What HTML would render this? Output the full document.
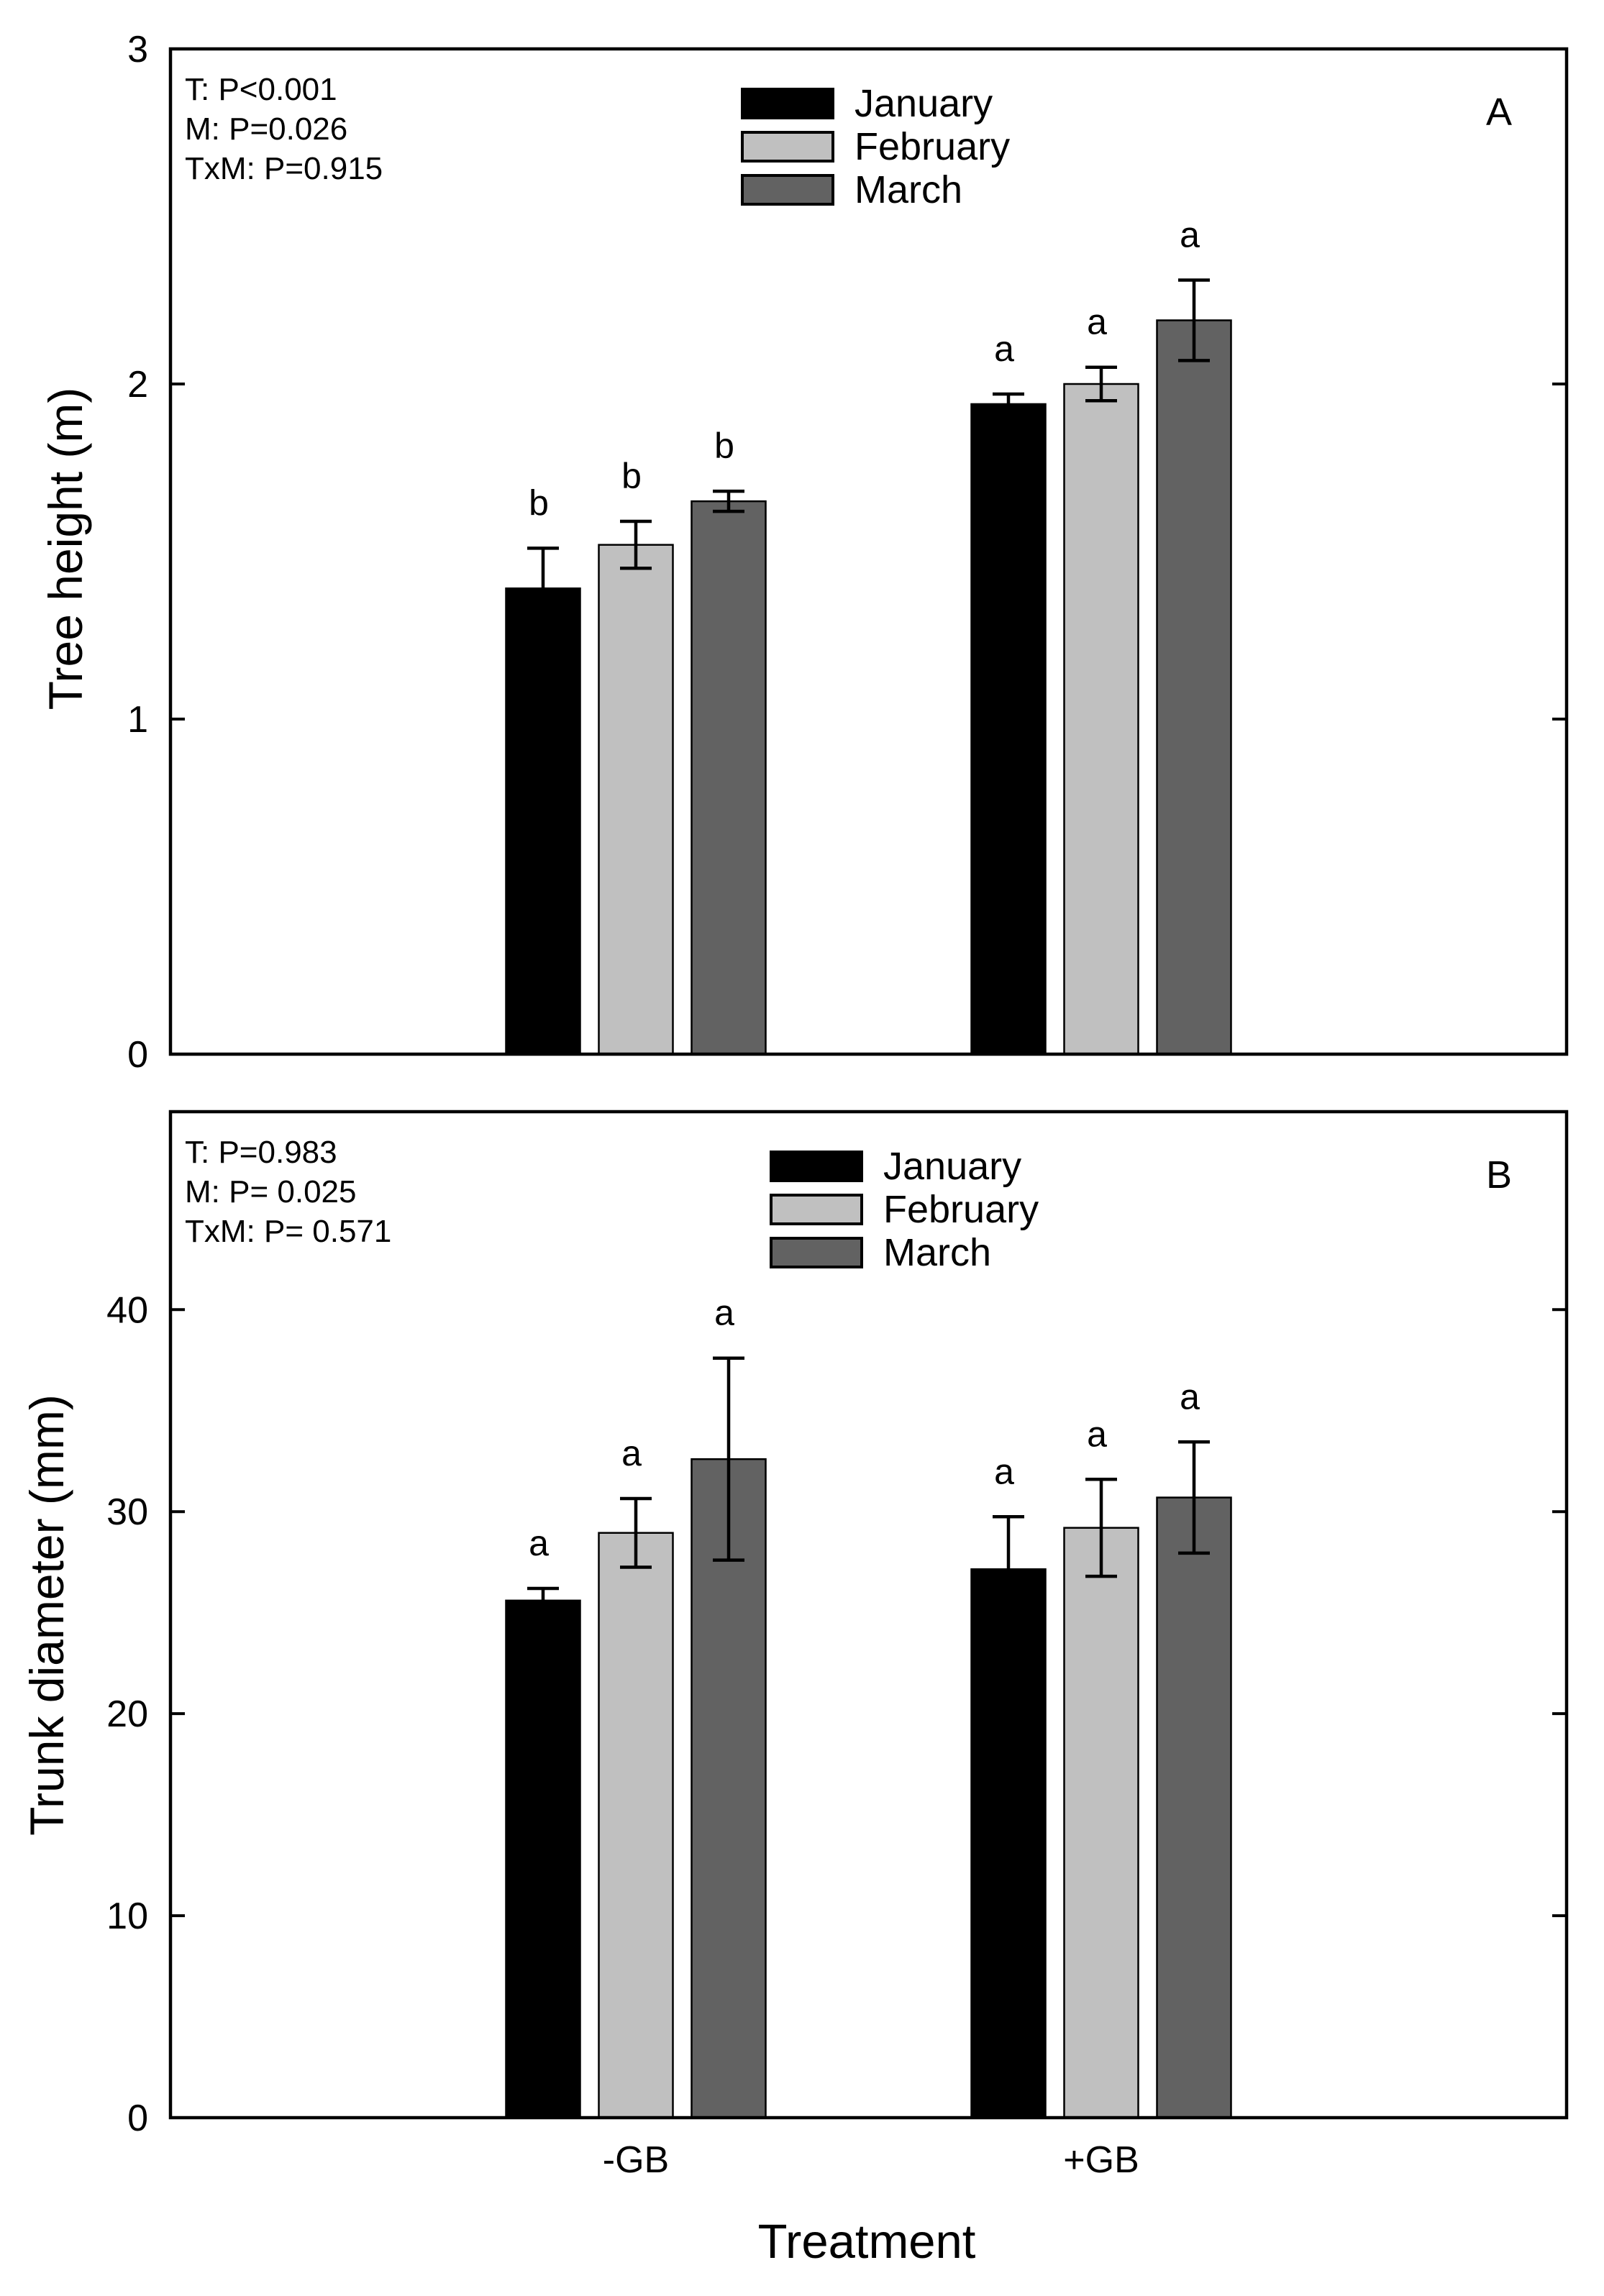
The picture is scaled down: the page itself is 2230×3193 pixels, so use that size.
<!DOCTYPE html>
<html><head><meta charset="utf-8"><style>
html,body{margin:0;padding:0;background:#fff;}
svg{display:block;font-family:"Liberation Sans",Arial,sans-serif;}
</style></head><body>
<svg id="chart" width="2230" height="3193" viewBox="0 0 2230 3193" xmlns="http://www.w3.org/2000/svg"></svg>
<script>
const categories = ["-GB", "+GB"];
const months = ["January", "February", "March"];
const colors = ["#000000", "#c0c0c0", "#626262"];
// Panel A: tree height (m)
const heightJan = [1.39, 1.94];
const heightFeb = [1.52, 2.00];
const heightMar = [1.65, 2.19];
const heightErrJan = [0.12, 0.03];
const heightErrFeb = [0.07, 0.05];
const heightErrMar = [0.03, 0.12];
const heightLetters = [["b","b","b"],["a","a","a"]];
const heightTicks = [0, 1, 2, 3];
// Panel B: trunk diameter (mm)
const diamJan = [25.6, 27.15];
const diamFeb = [28.95, 29.2];
const diamMar = [32.6, 30.7];
const diamErrJan = [0.6, 2.6];
const diamErrFeb = [1.7, 2.4];
const diamErrMar = [5.0, 2.75];
const diamLetters = [["a","a","a"],["a","a","a"]];
const diamTicks = [0, 10, 20, 30, 40];

const NS = "http://www.w3.org/2000/svg";
const svg = document.getElementById("chart");
function mk(tag, attrs, parent, text) {
  const e = document.createElementNS(NS, tag);
  for (const k in attrs) e.setAttribute(k, attrs[k]);
  if (text !== undefined) e.textContent = text;
  (parent || svg).appendChild(e);
  return e;
}
const L = 237, R = 2178;
function xCenter(i) { return L + (R - L) * (i + 1) / 3; }
const barW = 103, step = 129;

function panel(cfg) {
  const g = mk("g", {});
  
  
  const y = v => cfg.bottom - (v - 0) * (cfg.bottom - cfg.top) / cfg.max;
  const series = [cfg.jan, cfg.feb, cfg.mar];
  const errs = [cfg.ejan, cfg.efeb, cfg.emar];
  categories.forEach((c, ci) => {
    for (let s = 0; s < 3; s++) {
      const cx = xCenter(ci) + (s - 1) * step;
      const v = series[s][ci], e = errs[s][ci];
      const r = mk("rect", {x: cx - barW/2, y: y(v), width: barW, height: cfg.bottom - y(v), fill: colors[s], stroke: "#000", "stroke-width": 2.5}, g);
      
      
      const eb = mk("path", {d: `M${cx} ${y(v+e)}V${y(v-e)}M${cx-22} ${y(v+e)}H${cx+22}M${cx-22} ${y(v-e)}H${cx+22}`, stroke: "#000", "stroke-width": 4.5, fill: "none"}, g);
      
      
      const t = mk("text", {x: cx - 6, y: y(v+e) - 46, "font-size": 50, "text-anchor": "middle"}, g, cfg.letters[ci][s]);
      
      
    }
  });
  const fr = mk("rect", {x: L, y: cfg.top, width: R - L, height: cfg.bottom - cfg.top, fill: "none", stroke: "#000", "stroke-width": 4.5}, g);
  
  
  cfg.ticks.forEach(tv => {
    const ty = y(tv);
    if (tv !== 0 && ty > cfg.top + 5) {
      const tk = mk("path", {d: `M${L} ${ty}H${L+20}M${R} ${ty}H${R-20}`, stroke: "#000", "stroke-width": 4}, g);
      
      
    }
    const tl = mk("text", {x: 206, y: ty + 18, "font-size": 52, "text-anchor": "end"}, g, String(tv));
    
    
  });
  const yt = mk("text", {x: 0, y: 0, "font-size": 66, "text-anchor": "middle", transform: `translate(${cfg.titleX},${cfg.titleY}) rotate(-90)`}, g, cfg.title);
  
  
  cfg.stats.forEach((s, i) => {
    const st = mk("text", {x: 257, y: cfg.top + 71 + i * 55, "font-size": 44}, g, s);
    
    
  });
  const lg = mk("g", {}, g);
  
  
  months.forEach((m, i) => {
    const by = cfg.top + 56 + i * 60;
    const b = mk("rect", {x: cfg.legX, y: by, width: 126, height: 40, fill: colors[i], stroke: "#000", "stroke-width": 4}, lg);
    
    
    const lt = mk("text", {x: cfg.legX + 156, y: by + 38, "font-size": 54}, lg, m);
    
    
  });
  const pl = mk("text", {x: 2084, y: cfg.top + 106, "font-size": 54, "text-anchor": "middle"}, g, cfg.label);
  
  
}

panel({name: "panel-a-tree-height", top: 68, bottom: 1466, max: 3, jan: heightJan, feb: heightFeb, mar: heightMar,
  ejan: heightErrJan, efeb: heightErrFeb, emar: heightErrMar, letters: heightLetters, ticks: heightTicks,
  title: "Tree height (m)", titleX: 114, titleY: 763, stats: ["T: P<0.001", "M: P=0.026", "TxM: P=0.915"], legX: 1032, label: "A"});
panel({name: "panel-b-trunk-diameter", top: 1546, bottom: 2945, max: 49.8, jan: diamJan, feb: diamFeb, mar: diamMar,
  ejan: diamErrJan, efeb: diamErrFeb, emar: diamErrMar, letters: diamLetters, ticks: diamTicks,
  title: "Trunk diameter (mm)", titleX: 88, titleY: 2246, stats: ["T: P=0.983", "M: P= 0.025", "TxM: P= 0.571"], legX: 1072, label: "B"});

categories.forEach((c, ci) => {
  const t = mk("text", {x: xCenter(ci), y: 3021, "font-size": 52, "text-anchor": "middle"}, svg, c);
  
  
});
const xt = mk("text", {x: 1205, y: 3140, "font-size": 67, "text-anchor": "middle"}, svg, "Treatment");


</script>
</body></html>
